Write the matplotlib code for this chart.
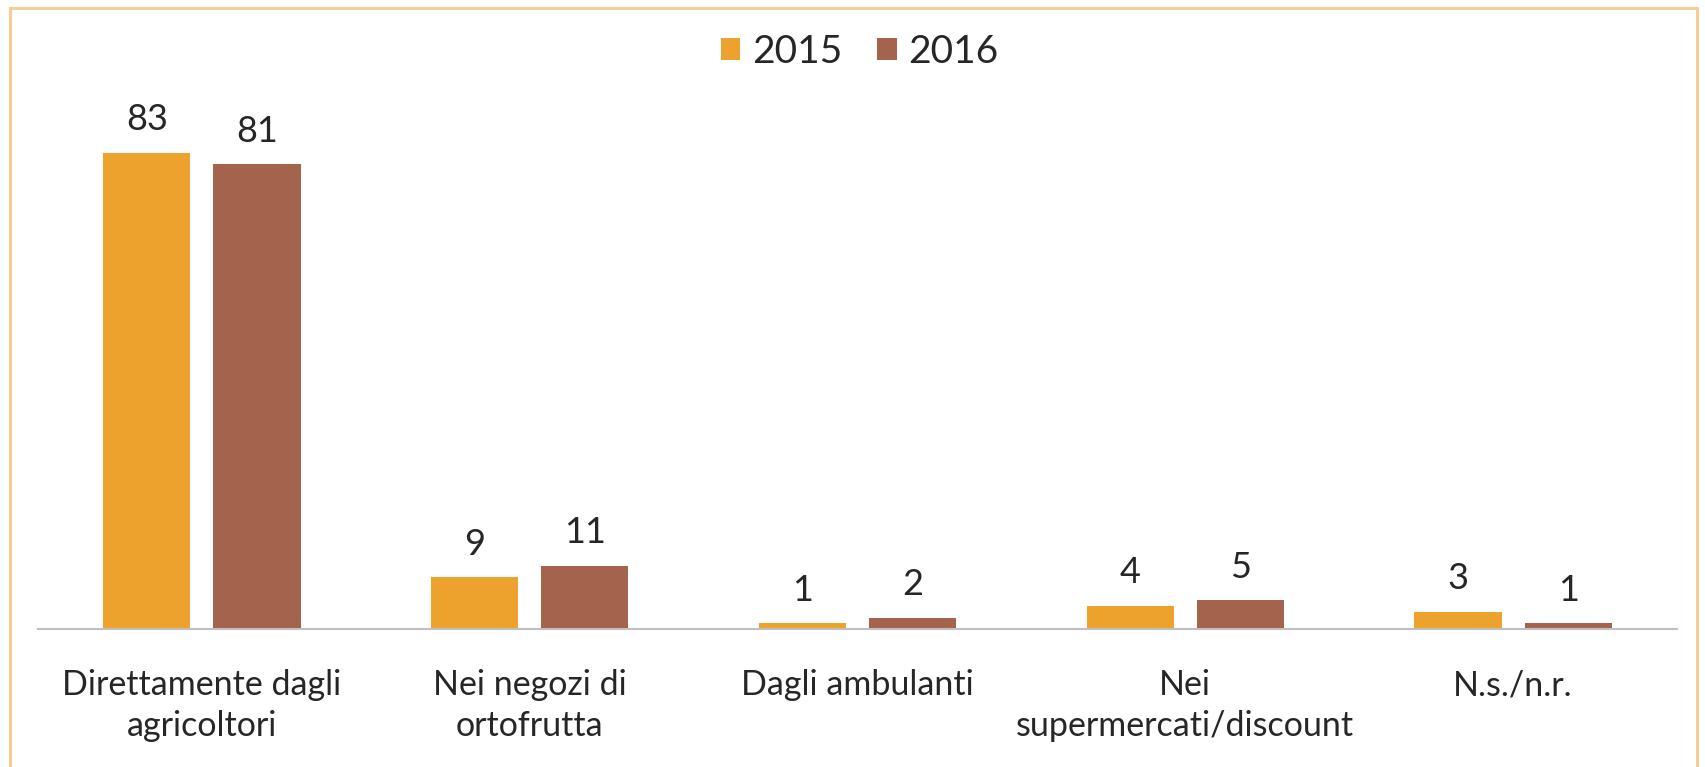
import matplotlib
matplotlib.use("Agg")
import matplotlib.pyplot as plt
from matplotlib.lines import Line2D
import numpy as np

categories = ["Direttamente dagli\nagricoltori", "Nei negozi di\nortofrutta", "Dagli ambulanti",
              "Nei\nsupermercati/discount", "N.s./n.r."]
series_names = ["2015", "2016"]
values_2015 = [83, 9, 1, 4, 3]
values_2016 = [81, 11, 2, 5, 1]

col_2015 = "#EEA22E"
col_2016 = "#A3634C"
border_col = "#F8C98C"
text_col = "#262626"

plt.rcParams['font.family'] = ['Lato', 'DejaVu Sans']

W, H = 1706, 767
fig = plt.figure(figsize=(W / 100, H / 100), dpi=100)
ax_left, ax_right = 38, 1677
ax_base = 629
ymax = 90
px_per_unit = 5.735
ax_top = ax_base - ymax * px_per_unit
ax = fig.add_axes([ax_left / W, (H - ax_base) / H, (ax_right - ax_left) / W, (ax_base - ax_top) / H])

x = np.arange(len(categories))
bw = 0.266
off = 0.168
b1 = ax.bar(x - off, values_2015, bw, color=col_2015, label=series_names[0])
b2 = ax.bar(x + off, values_2016, bw, color=col_2016, label=series_names[1])

for bars, vals in ((b1, values_2015), (b2, values_2016)):
    for r, v in zip(bars, vals):
        ax.annotate(str(v), (r.get_x() + r.get_width() / 2, r.get_height()),
                    xytext=(0, 12), textcoords="offset points", ha="center", va="bottom",
                    fontsize=26, color=text_col)

ax.set_xlim(-0.5, len(categories) - 0.5)
ax.set_ylim(0, ymax)
ax.set_yticks([])
ax.set_xticks(x)
ax.set_xticklabels(categories, fontsize=24.5, color=text_col, linespacing=1.35)
ax.tick_params(axis="x", length=0, pad=29)
for s in ["top", "right", "left"]:
    ax.spines[s].set_visible(False)
ax.spines["bottom"].set_color("#BFBFBF")
ax.spines["bottom"].set_linewidth(1.5)

leg = fig.legend(loc="center", bbox_to_anchor=(0.504, 1 - 52 / H), ncol=2, frameon=False,
                 fontsize=28, handlelength=0.5, handleheight=0.5, handletextpad=0.3,
                 columnspacing=0.9)
for t in leg.get_texts():
    t.set_color(text_col)

# border frame
bx0, bx1, by0 = 10 / W, 1697 / W, 1 - 8 / H
for xs, ys in (([bx0, bx1], [by0, by0]), ([bx0, bx0], [by0, 0]), ([bx1, bx1], [by0, 0])):
    fig.add_artist(Line2D(xs, ys, transform=fig.transFigure, color=border_col, lw=2))

fig.savefig("out.png", dpi=100, facecolor="white")
